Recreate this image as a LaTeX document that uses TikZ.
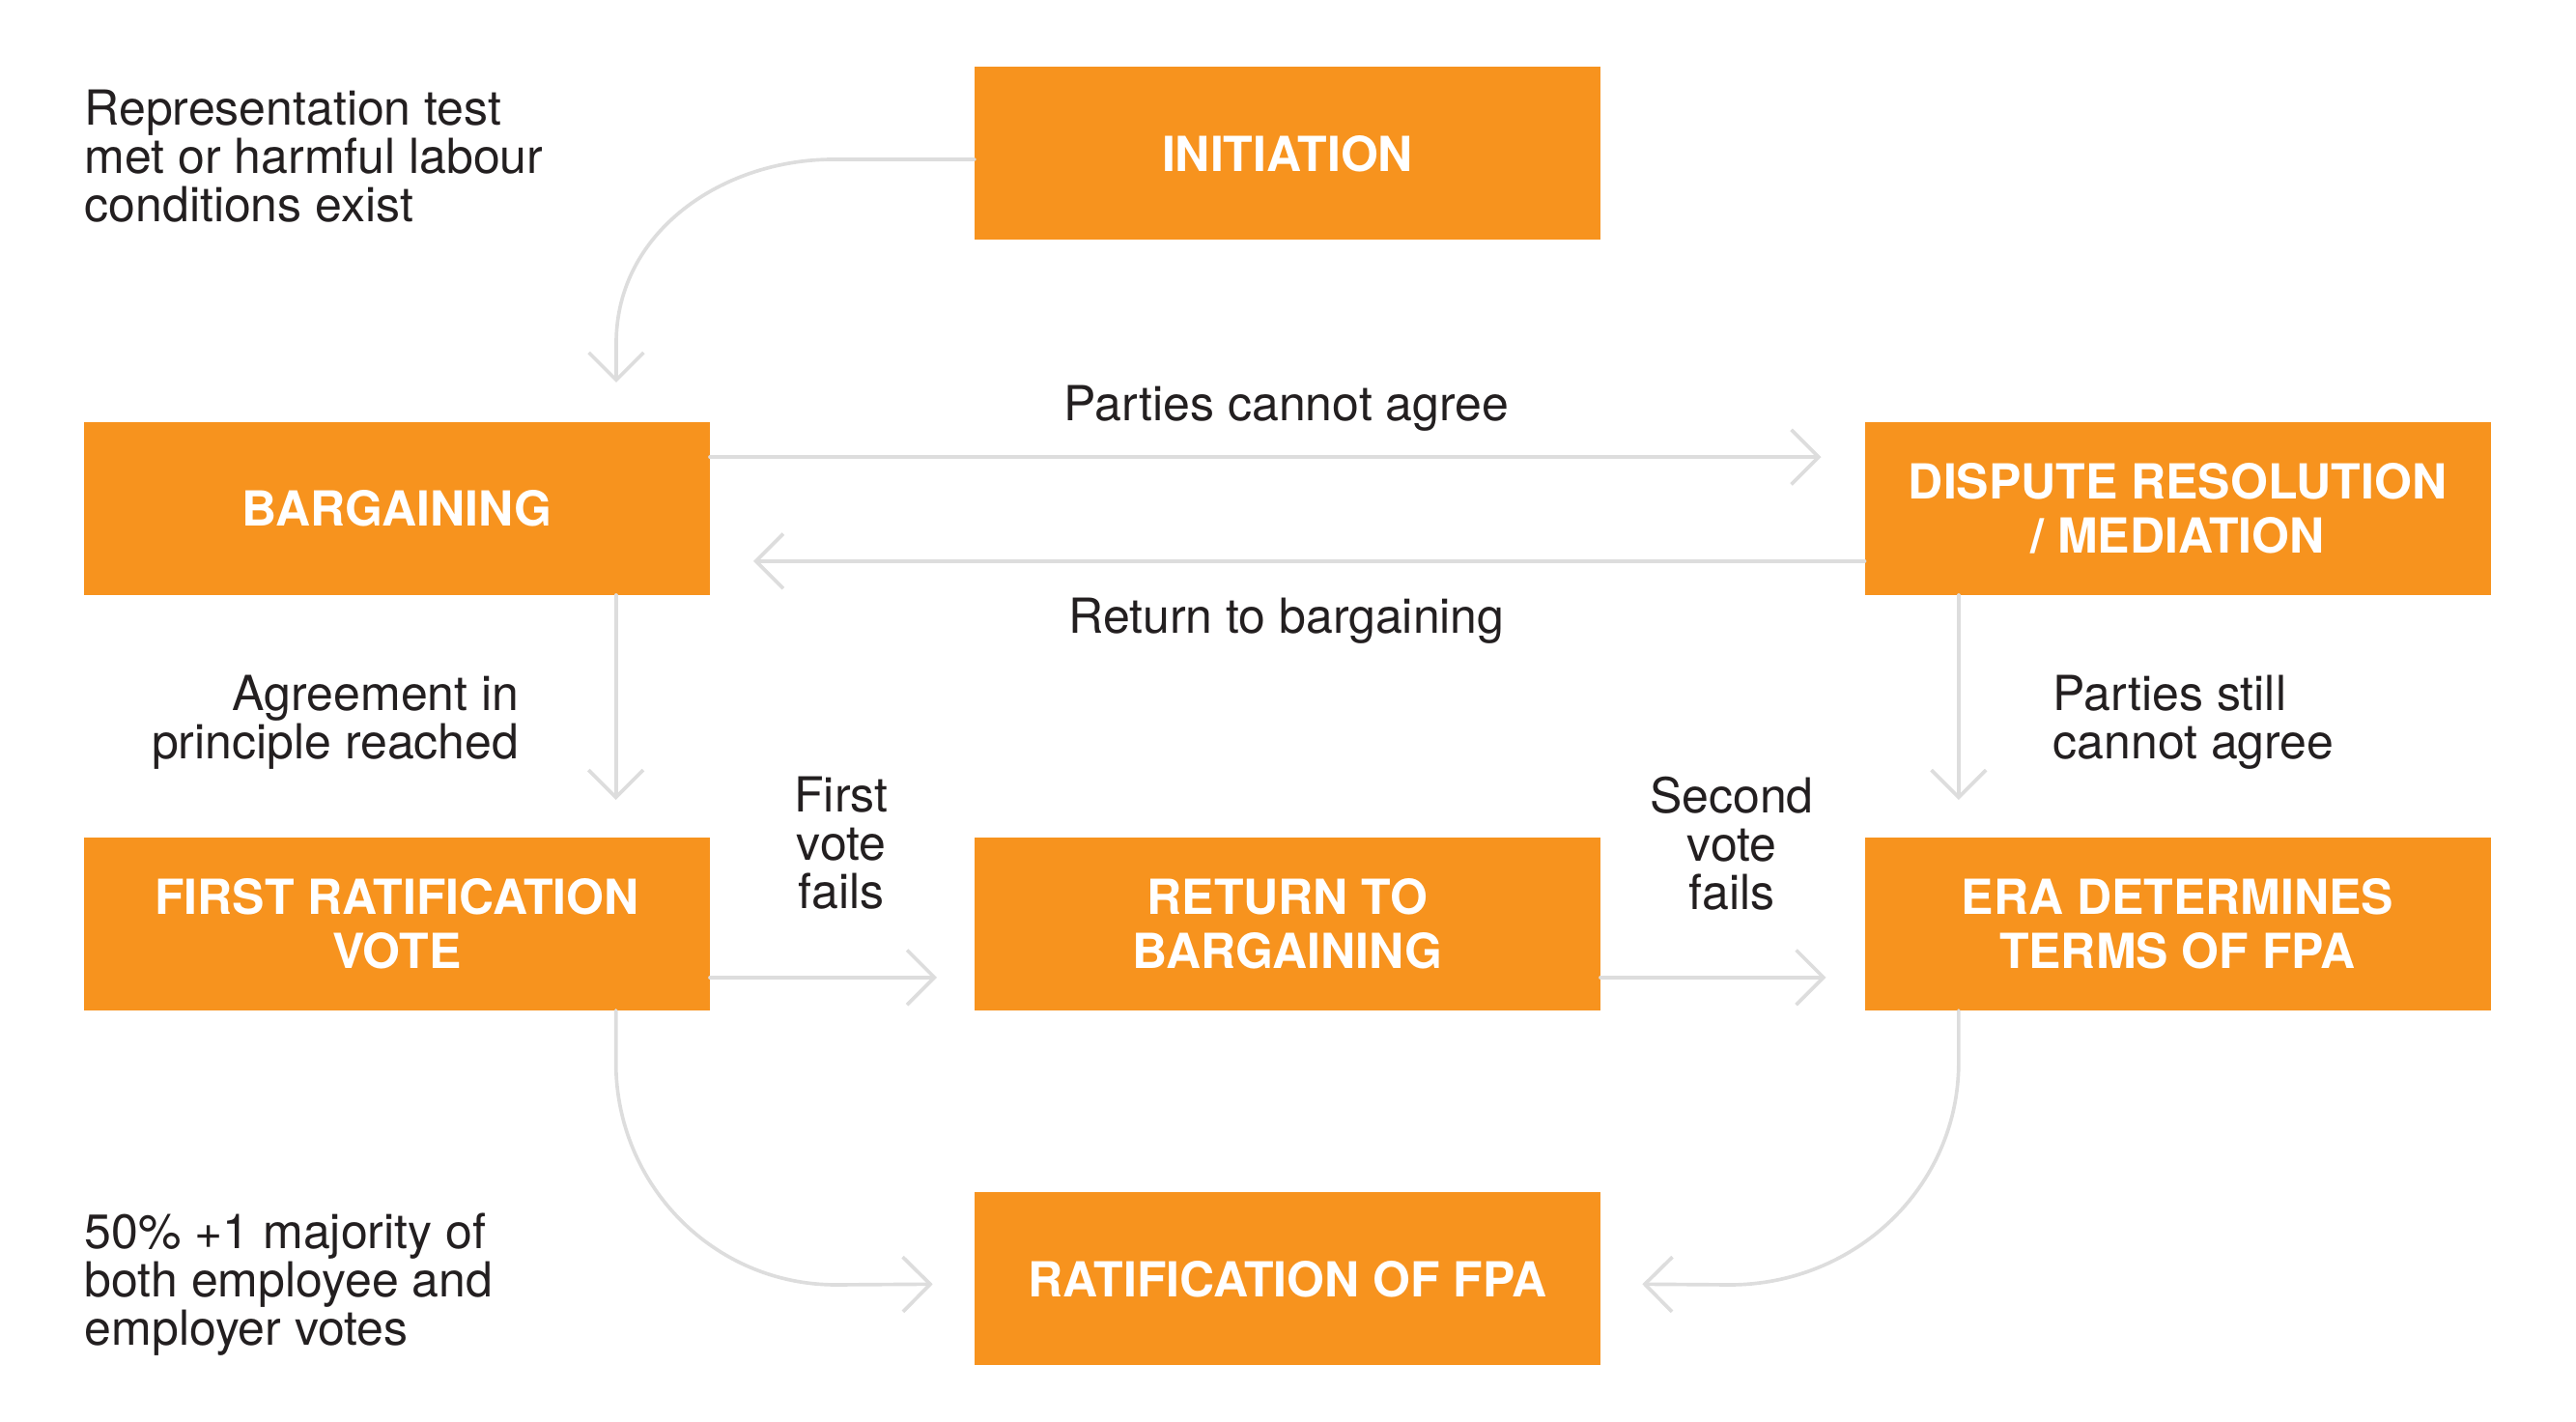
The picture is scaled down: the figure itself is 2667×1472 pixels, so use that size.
\documentclass[tikz,border=0pt]{standalone}
\usepackage{fontspec}
\setmainfont{TeX Gyre Heros}
\usetikzlibrary{arrows.meta}
\definecolor{boxorange}{RGB}{247,147,30}
\definecolor{lgray}{RGB}{221,221,221}
\definecolor{txt}{RGB}{35,31,32}
\tikzset{
  stepbox/.style={fill=boxorange, draw=none, minimum width=194.4pt, minimum height=53.7pt,
    inner sep=0pt, outer sep=0pt, align=center, text=white,
    font={\fontsize{15}{16.8}\selectfont\bfseries}},
  lbl/.style={inner sep=0pt, text=txt, font={\fontsize{15}{15}\selectfont}},
  conn/.style={draw=lgray, line width=1.1pt, line cap=round,
    -{Straight Barb[length=8.5pt,width=17pt,line width=1.1pt]}},
}
\begin{document}
\begin{tikzpicture}[x=0.3pt,y=-0.3pt]
\useasboundingbox (0,0) rectangle (2667,1472);
% boxes
\node[stepbox] (init)  at (1333,159)   {INITIATION};
\node[stepbox] (barg)  at (411,526.5)  {BARGAINING};
\node[stepbox] (disp)  at (2254.5,526.5) {DISPUTE RESOLUTION\\/ MEDIATION};
\node[stepbox] (first) at (411,956.5)  {FIRST RATIFICATION\\VOTE};
\node[stepbox] (ret)   at (1333,956.5) {RETURN TO\\BARGAINING};
\node[stepbox] (era)   at (2254.5,956.5) {ERA DETERMINES\\TERMS OF FPA};
\node[stepbox] (ratif) at (1333,1324)  {RATIFICATION OF FPA};
% labels
\node[lbl, anchor=west, align=left] (lrep) at (87,162) {Representation test\\met or harmful labour\\conditions exist};
\node[lbl] (lcannot) at (1332,423) {Parties cannot agree};
\node[lbl] (lreturn) at (1332,643) {Return to bargaining};
\node[lbl, anchor=east, align=right] (lagree) at (538,748) {Agreement in\\principle reached};
\node[lbl, anchor=west, align=left] (lstill) at (2125,748) {Parties still\\cannot agree};
\node[lbl, align=center] (lfirst) at (871,873) {First\\vote\\fails};
\node[lbl, align=center] (lsecond) at (1793,873) {Second\\vote\\fails};
\node[lbl, anchor=west, align=left] (lmaj) at (87,1330) {50\% +1 majority of\\both employee and\\employer votes};
% connectors
\coordinate (t1) at (638,396);
\draw[conn] ([yshift=-1.8pt]init.west) -- ++(-146,0) to[out=180,in=90] (638,355) -- (t1);
\draw[conn, shorten >=13.5pt] ([yshift=16pt]barg.east) -- ([yshift=16pt]disp.west);
\draw[conn, shorten >=13.5pt] ([yshift=-16.3pt]disp.west) -- ([yshift=-16.3pt]barg.east);
\draw[conn, shorten >=11.7pt] ([xshift=68pt]barg.south) -- ([xshift=68pt]first.north);
\draw[conn, shorten >=11.7pt] ([xshift=-68pt]disp.south) -- ([xshift=-68pt]era.north);
\draw[conn, shorten >=11.7pt] ([yshift=-16.6pt]first.east) -- ([yshift=-16.6pt]ret.west);
\draw[conn, shorten >=12pt] ([yshift=-16.6pt]ret.east) -- ([yshift=-16.6pt]era.west);
\draw[conn, shorten >=13pt] ([xshift=68pt]first.south) -- ++(0,54) to[out=-90,in=180] ++(228,230) -- ([yshift=-1.5pt]ratif.west);
\draw[conn, shorten >=13pt] ([xshift=-68pt]era.south) -- ++(0,54) to[out=-90,in=0] ++(-237,230) -- ([yshift=-1.5pt]ratif.east);
\end{tikzpicture}
\end{document}
